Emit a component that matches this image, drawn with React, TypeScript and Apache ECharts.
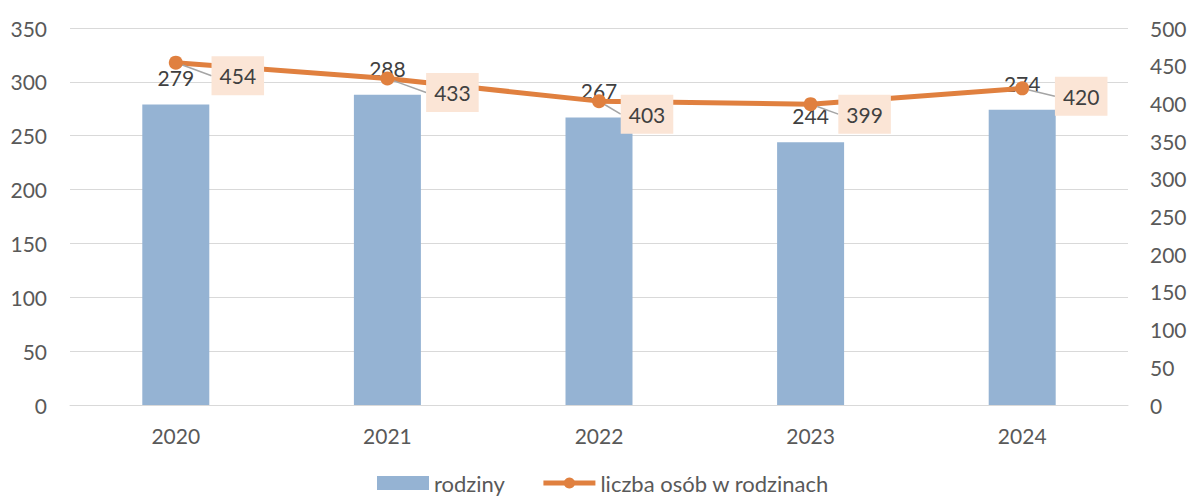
import React, { useEffect, useRef } from "react";
import * as echarts from "echarts";

const years = ["2020", "2021", "2022", "2023", "2024"];
const families = [279, 288, 267, 244, 274];
const persons = [454, 433, 403, 399, 420];
const leftTicks = { min: 0, max: 350, interval: 50 };
const rightTicks = { min: 0, max: 500, interval: 50 };
// label displacement (px) for the line labels, relative to each marker
const lineLabelDx = [62, 65, 48, 54, 59];
const lineLabelDy = [13, 14, 13, 10, 8];

const FONT = "Lato, 'Open Sans', sans-serif";
const TXT = "#595959";
const FS = 21;

export default function App() {
  const ref = useRef<HTMLDivElement>(null);
  useEffect(() => {
    const chart = echarts.init(ref.current!, null, { renderer: "svg" });
    chart.setOption({
      animation: false,
      textStyle: { fontFamily: FONT },
      grid: { left: 70, right: 62, top: 28, bottom: 93 },
      legend: {
        top: 472,
        left: 377,
        padding: 0,
        itemWidth: 52,
        itemHeight: 14,
        itemGap: 36,
        textStyle: { color: TXT, fontSize: 22, fontFamily: FONT },
        data: [
          { name: "rodziny", icon: "rect" },
          { name: "liczba osób w rodzinach", lineStyle: { width: 5 } },
        ],
      },
      xAxis: {
        type: "category",
        data: years,
        axisLine: { lineStyle: { color: "#D9D9D9" } },
        axisTick: { show: false },
        axisLabel: { color: TXT, fontSize: FS, fontFamily: FONT, margin: 20 },
      },
      yAxis: [
        {
          type: "value",
          ...leftTicks,
          axisLine: { show: false },
          axisTick: { show: false },
          splitLine: { lineStyle: { color: "#D9D9D9" } },
          axisLabel: { color: TXT, fontSize: FS, fontFamily: FONT, margin: 23 },
        },
        {
          type: "value",
          ...rightTicks,
          axisLine: { show: false },
          axisTick: { show: false },
          splitLine: { show: false },
          axisLabel: { color: TXT, fontSize: FS, fontFamily: FONT, margin: 22 },
        },
      ],
      series: [
        {
          name: "rodziny",
          type: "bar",
          data: families,
          barWidth: 67,
          itemStyle: { color: "#95B3D3" },
          label: {
            show: true,
            position: "top",
            distance: 16,
            color: "#404040",
            fontSize: FS,
            fontFamily: FONT,
          },
        },
        {
          name: "liczba osób w rodzinach",
          type: "line",
          yAxisIndex: 1,
          data: persons,
          symbol: "circle",
          symbolSize: 14,
          lineStyle: { color: "#E0803F", width: 5 },
          itemStyle: { color: "#E0803F" },
          z: 3,
          label: {
            show: true,
            position: "inside",
            color: "#404040",
            fontSize: FS,
            fontFamily: FONT,
            backgroundColor: "#FBE5D6",
            padding: [9, 8, 9, 8],
          },
          labelLine: {
            show: true,
            lineStyle: { color: "#A5A5A5", width: 1.5 },
          },
          labelLayout: (p: any) => {
            const cx = p.rect.x + p.rect.width / 2;
            const cy = p.rect.y + p.rect.height / 2;
            const i = p.dataIndex;
            return {
              x: cx + lineLabelDx[i],
              y: cy + lineLabelDy[i],
              align: "center",
              verticalAlign: "middle",
            };
          },
        },
      ],
    });
    return () => chart.dispose();
  }, []);
  return (
    <div
      ref={ref}
      style={{ position: "absolute", left: 0, top: 0, width: 1190, height: 498 }}
    />
  );
}
